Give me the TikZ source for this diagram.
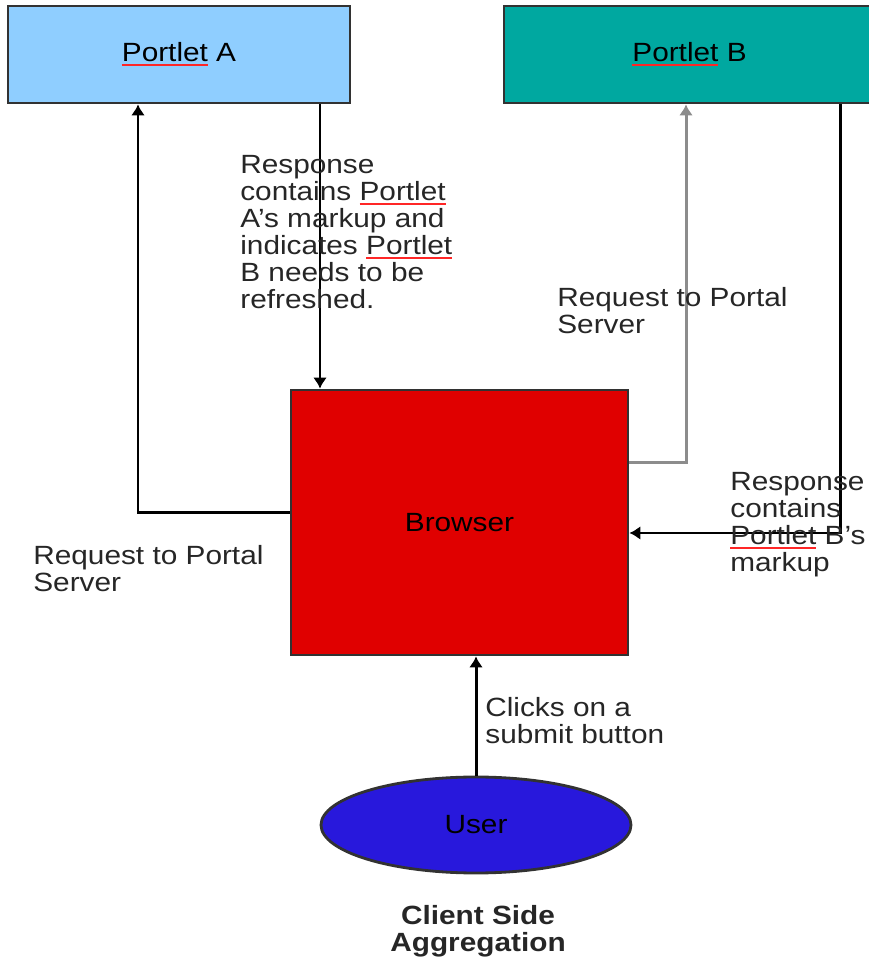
\documentclass[tikz,border=0pt]{standalone}
\usepackage{fontspec}
\setmainfont{Liberation Sans}[FakeStretch=1.13]
\usetikzlibrary{arrows.meta,shapes.geometric}
\definecolor{portletA}{RGB}{143,206,255}
\definecolor{portletB}{RGB}{0,168,160}
\definecolor{browserred}{RGB}{224,0,0}
\definecolor{userblue}{RGB}{40,24,220}
\definecolor{edgegray}{RGB}{50,50,50}
\newsavebox{\spellbox}
\newcommand{\spellmark}[1]{\sbox{\spellbox}{#1}\rlap{\textcolor{red!85}{\rule[-2.6pt]{\wd\spellbox}{1.3pt}}}\usebox{\spellbox}}
\begin{document}
\begin{tikzpicture}[
    box/.style={draw=edgegray, line width=1.6pt, inner sep=0pt},
    label/.style={anchor=north west, inner sep=0pt, align=left, text=black!85,
        font=\fontsize{15}{15.4}\selectfont},
    link/.style={line width=1.7pt, -{Latex[length=2.2mm,width=2.8mm]}}
]
    \useasboundingbox (0,0) rectangle (17.38,19.14);

    % Draw the two portlets
    \node[box, fill=portletA, minimum width=6.84cm, minimum height=1.94cm,
        font=\fontsize{15}{15.4}\selectfont] (pA) at (3.58,18.05) {\spellmark{Portlet} A};
    \node[box, fill=portletB, minimum width=7.42cm, minimum height=1.94cm,
        font=\fontsize{15}{15.4}\selectfont] (pB) at (13.79,18.05) {\spellmark{Portlet} B};

    % Browser and user
    \node[box, fill=browserred, minimum width=6.74cm, minimum height=5.3cm,
        font=\fontsize{15}{15.4}\selectfont] (browser) at (9.19,8.69) {Browser};
    \node[box, ellipse, fill=userblue, minimum width=6.2cm, minimum height=1.92cm,
        font=\fontsize{15}{15.4}\selectfont] (user) at (9.52,2.64) {User};

    % Requests and responses for portlet A
    \draw[link] ([yshift=0.19cm]browser.west) -| ([xshift=-0.82cm]pA.south);
    \draw[link] ([xshift=2.82cm]pA.south) -- ([xshift=2.82cm]pA.south |- browser.north);

    % Requests and responses for portlet B
    \draw[link, black!45] ([yshift=1.19cm]browser.east) -| ([xshift=-0.07cm]pB.south);
    \draw[link] ([xshift=3.01cm]pB.south) |- ([yshift=-0.21cm]browser.east);

    % User clicks
    \draw[link] (user.north) -- (user.north |- browser.south);

    % Labels
    \node[label] (respA) at (4.8,16.04) {Response\\contains \spellmark{Portlet}\\A's markup and\\indicates \spellmark{Portlet}\\B needs to be\\refreshed.};
    \node[label] (reqB) at (11.14,13.4) {Request to Portal\\Server};
    \node[label] (respB) at (14.6,9.7) {Response\\contains\\\spellmark{Portlet} B's\\markup};
    \node[label] (reqA) at (0.66,8.24) {Request to Portal\\Server};
    \node[label] (clicks) at (9.7,5.2) {Clicks on a\\submit button};
    \node[label, anchor=north, align=center, font=\fontsize{15}{15.4}\selectfont\bfseries]
        (caption) at (9.56,1.04) {Client Side\\Aggregation};
\end{tikzpicture}
\end{document}
